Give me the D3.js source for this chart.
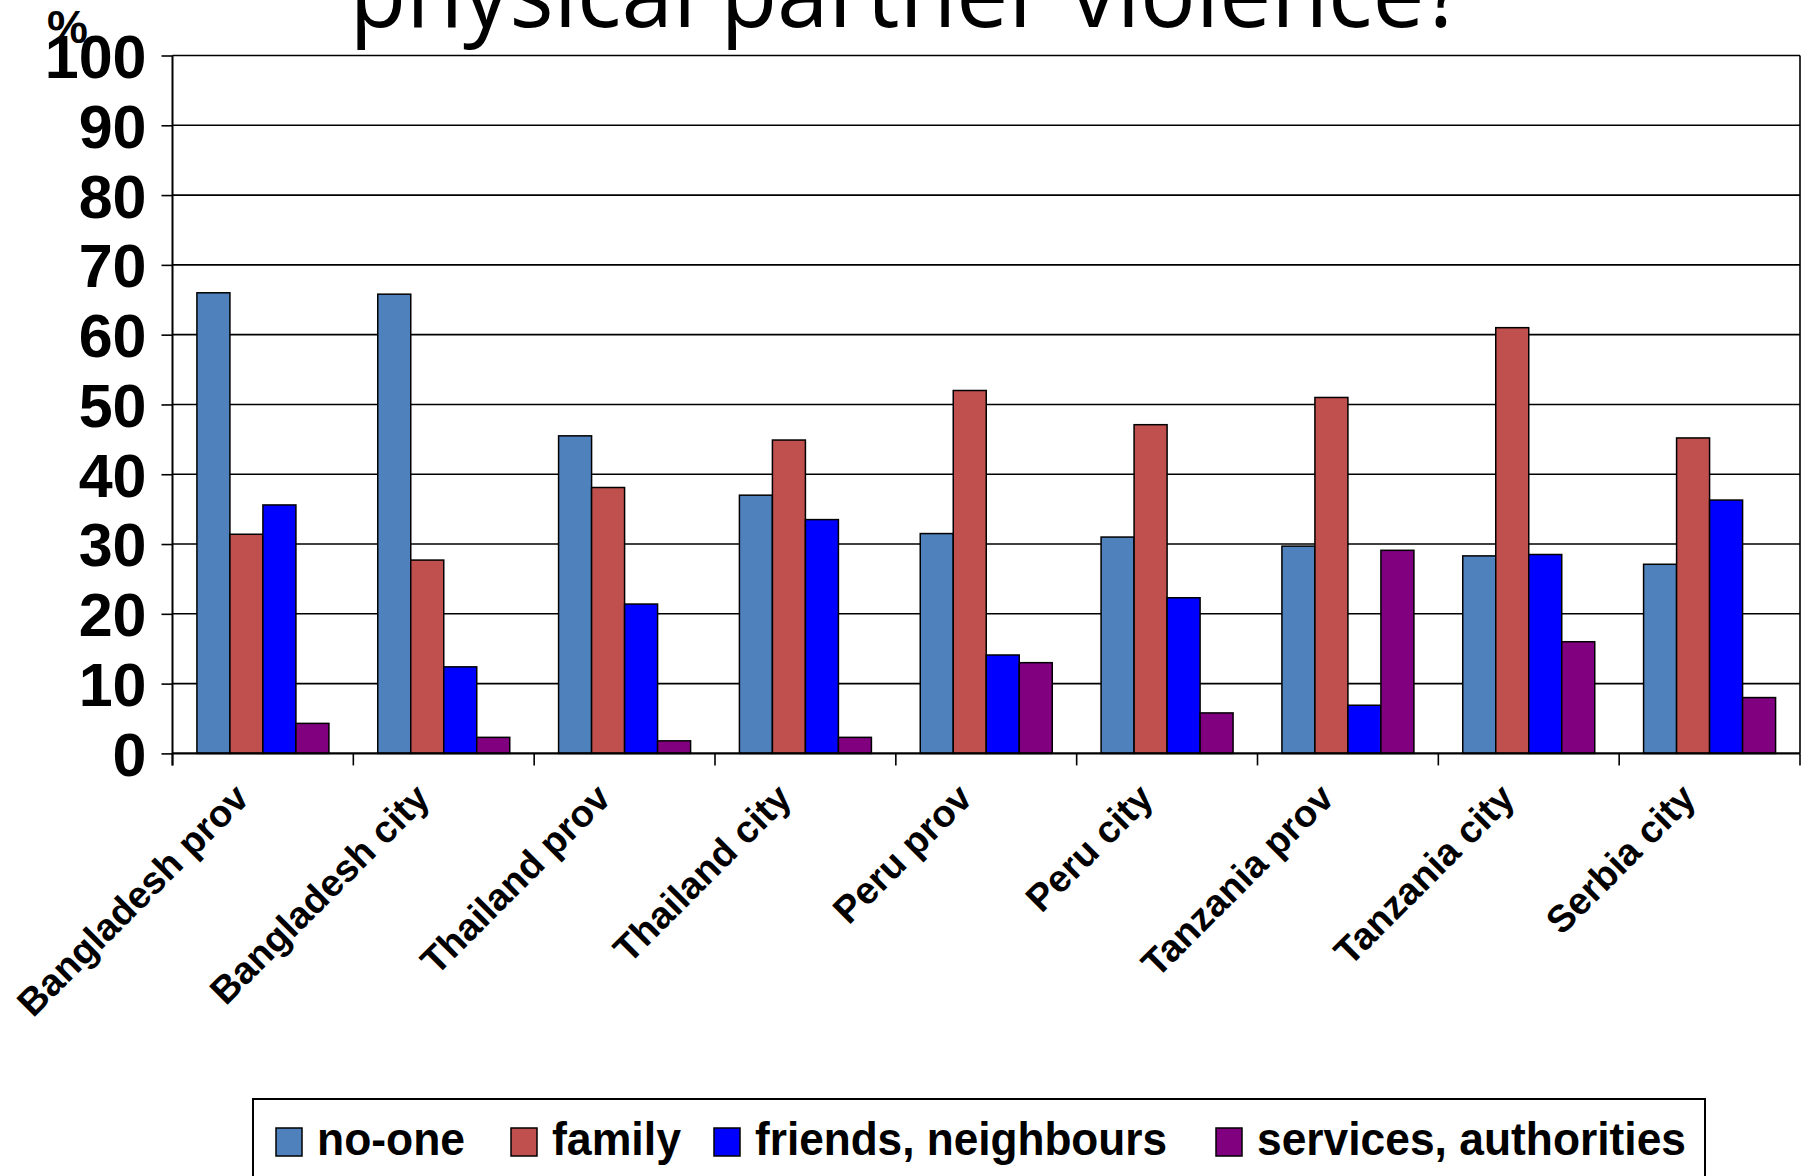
<!DOCTYPE html>
<html>
<head>
<meta charset="utf-8">
<script src="https://cdn.jsdelivr.net/npm/d3@7"></script>
<style>
  html, body { margin: 0; padding: 0; background: #fff; }
  svg { display: block; }
</style>
</head>
<body>
<div id="chart"></div>
<script>
const categories = ["Bangladesh prov", "Bangladesh city", "Thailand prov", "Thailand city",
  "Peru prov", "Peru city", "Tanzania prov", "Tanzania city", "Serbia city"];
const seriesNames = ["no-one", "family", "friends, neighbours", "services, authorities"];
const noOne = [66.0, 65.8, 45.5, 37.0, 31.5, 31.0, 29.7, 28.3, 27.1];
const family = [31.4, 27.7, 38.1, 44.9, 52.0, 47.1, 51.0, 61.0, 45.2];
const friends = [35.6, 12.4, 21.4, 33.5, 14.1, 22.3, 6.9, 28.5, 36.3];
const services = [4.3, 2.3, 1.8, 2.3, 13.0, 5.8, 29.1, 16.0, 8.0];
const yTicks = [0, 10, 20, 30, 40, 50, 60, 70, 80, 90, 100];
const colors = ["#4F81BD", "#C0504D", "#0000FF", "#800080"];
const titleText = "physical partner violence?";
const unitLabel = "%";

const seriesValues = [noOne, family, friends, services];

// layout
const W = 1809, H = 1176;
const plotLeft = 172.5, plotRight = 1800, plotTop = 55.5, plotBottom = 753.4;
const sansBold = "'Liberation Sans', Arial, sans-serif";

const svg = d3.select("#chart").append("svg")
  .attr("width", W)
  .attr("height", H);

const x0 = d3.scaleBand()
  .domain(categories)
  .range([plotLeft, plotRight])
  .paddingInner(0)
  .paddingOuter(0);

const x1 = d3.scaleBand()
  .domain(seriesNames)
  .range([0, x0.bandwidth()])
  .paddingInner(0)
  .paddingOuter(0.74);

const y = d3.scaleLinear()
  .domain([0, 100])
  .range([plotBottom, plotTop]);

const color = d3.scaleOrdinal().domain(seriesNames).range(colors);

// title (only the visible second line)
svg.append("text")
  .attr("x", 907)
  .attr("y", 27)
  .attr("text-anchor", "middle")
  .attr("textLength", 1115)
  .attr("lengthAdjust", "spacingAndGlyphs")
  .style("font-family", "'Open Sans', 'Noto Sans', sans-serif")
  .style("font-size", "96px")
  .style("fill", "#000")
  .text(titleText);

// grid lines
svg.append("g")
  .selectAll("line")
  .data(yTicks.filter(d => d > 0))
  .join("line")
  .attr("x1", plotLeft)
  .attr("x2", plotRight)
  .attr("y1", d => y(d))
  .attr("y2", d => y(d))
  .attr("stroke", "#000")
  .attr("stroke-width", 1.6);

// plot right border
svg.append("line")
  .attr("x1", plotRight).attr("x2", plotRight)
  .attr("y1", plotTop).attr("y2", plotBottom)
  .attr("stroke", "#000")
  .attr("stroke-width", 1.6);

// bars
const rows = categories.map((c, i) => ({
  cat: c,
  vals: seriesNames.map((s, j) => ({ key: s, value: seriesValues[j][i] }))
}));

svg.append("g")
  .selectAll("g")
  .data(rows)
  .join("g")
  .attr("transform", d => `translate(${x0(d.cat)},0)`)
  .selectAll("rect")
  .data(d => d.vals)
  .join("rect")
  .attr("x", d => x1(d.key))
  .attr("y", d => y(d.value))
  .attr("width", x1.bandwidth())
  .attr("height", d => plotBottom - y(d.value))
  .attr("fill", d => color(d.key))
  .attr("stroke", "#000")
  .attr("stroke-width", 1.5);

// y axis
const yAxis = svg.append("g")
  .attr("transform", `translate(${plotLeft},0)`)
  .call(d3.axisLeft(y).tickValues(yTicks).tickSize(11).tickPadding(15).tickFormat(d3.format("d")));
yAxis.select(".domain").attr("stroke", "#000").attr("stroke-width", 2)
  .attr("d", `M0,${plotTop}V${plotBottom + 12}`);
yAxis.selectAll(".tick line").attr("stroke", "#000").attr("stroke-width", 1.6);
yAxis.selectAll(".tick text")
  .attr("dy", "0.36em")
  .style("font-family", sansBold)
  .style("font-weight", "bold")
  .style("font-size", "61px")
  .style("fill", "#000");

// x axis
const boundaries = categories.map(c => x0(c)).concat([plotRight]);
svg.append("line")
  .attr("x1", plotLeft).attr("x2", plotRight)
  .attr("y1", plotBottom).attr("y2", plotBottom)
  .attr("stroke", "#000").attr("stroke-width", 2.2);
svg.append("g")
  .selectAll("line")
  .data(boundaries)
  .join("line")
  .attr("x1", d => d).attr("x2", d => d)
  .attr("y1", plotBottom).attr("y2", plotBottom + 12)
  .attr("stroke", "#000").attr("stroke-width", 1.6);

svg.append("g")
  .selectAll("text")
  .data(categories)
  .join("text")
  .attr("transform", d => `translate(${x0(d) + x0.bandwidth() / 2 - 12},${plotBottom + 47}) rotate(-45)`)
  .attr("text-anchor", "end")
  .style("font-family", sansBold)
  .style("font-weight", "bold")
  .style("font-size", "38px")
  .style("fill", "#000")
  .text(d => d);

// unit label
svg.append("text")
  .attr("x", 47)
  .attr("y", 43)
  .style("font-family", sansBold)
  .style("font-weight", "bold")
  .style("font-size", "46px")
  .style("fill", "#000")
  .text(unitLabel);

// legend
const legendX = [276, 511, 714, 1216];
const legendTextW = [148, 129, 412, 429];
svg.append("rect")
  .attr("x", 253).attr("y", 1099)
  .attr("width", 1452).attr("height", 120)
  .attr("fill", "#fff")
  .attr("stroke", "#000").attr("stroke-width", 2);

const legend = svg.append("g")
  .selectAll("g")
  .data(seriesNames)
  .join("g")
  .attr("transform", (d, i) => `translate(${legendX[i]},0)`);

legend.append("rect")
  .attr("x", 0).attr("y", 1128)
  .attr("width", 26).attr("height", 28)
  .attr("fill", d => color(d))
  .attr("stroke", "#000").attr("stroke-width", 1.5);

legend.append("text")
  .attr("x", 41)
  .attr("y", 1155)
  .attr("textLength", (d, i) => legendTextW[i])
  .attr("lengthAdjust", "spacingAndGlyphs")
  .style("font-family", sansBold)
  .style("font-weight", "bold")
  .style("font-size", "46px")
  .style("fill", "#000")
  .text(d => d);
</script>
</body>
</html>
